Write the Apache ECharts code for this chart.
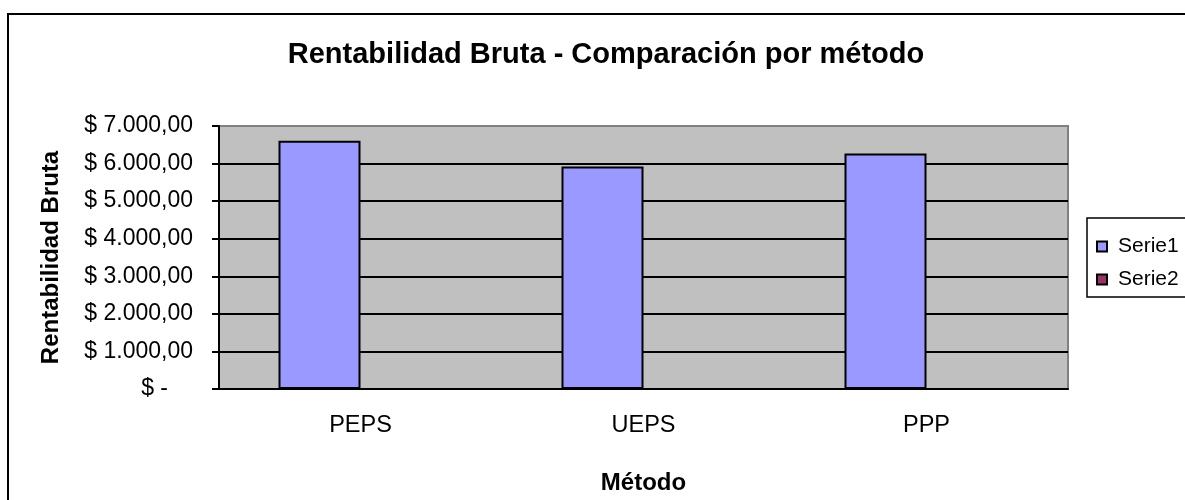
<!DOCTYPE html>
<html>
<head>
<meta charset="utf-8">
<script src="https://cdn.jsdelivr.net/npm/echarts@6/dist/echarts.min.js"></script>
<style>
  html, body { margin: 0; padding: 0; background: #fff; }
  #chart { width: 1185px; height: 500px; }
</style>
</head>
<body>
<!-- contenedor del gráfico -->
<div id="chart"></div>
<script>
// datos del gráfico
const categorias = ['PEPS', 'UEPS', 'PPP']
const serie1 = [6610, 5925, 6265]
const serie2 = [null, null, null]
const yMin = 0
const yMax = 7000
const yInterval = 1000

const fuente = 'Liberation Sans, Arial, sans-serif'

// formato contable: $ 7.000,00
function formatoPesos (v) {
  if (v === 0) return '{z|$ -}'
  const partes = v.toFixed(2).split('.')
  const entero = partes[0].replace(/\B(?=(\d{3})+(?!\d))/g, '.')
  return '$ ' + entero + ',' + partes[1]
}

const myChart = echarts.init(document.getElementById('chart'))

const option = {
  animation: false,
  backgroundColor: '#fff',
  title: {
    text: 'Rentabilidad Bruta - Comparación por método',
    left: 601,
    textAlign: 'center',
    top: 35,
    textStyle: { fontFamily: fuente, fontSize: 29, fontWeight: 'bold', color: '#000' }
  },
  graphic: [
    {
      type: 'rect',
      shape: { x: 8, y: 14, width: 1200, height: 500 },
      style: { fill: 'none', stroke: '#000', lineWidth: 2 },
      z: 100
    }
  ],
  legend: {
    orient: 'vertical',
    left: 1087,
    top: 218,
    padding: [18, 20, 7, 9],
    itemGap: 12,
    itemWidth: 10,
    itemHeight: 10,
    icon: 'rect',
    borderColor: '#000',
    borderWidth: 1.5,
    backgroundColor: '#fff',
    data: ['Serie1', 'Serie2'],
    textStyle: { fontFamily: fuente, fontSize: 21, color: '#000', padding: [0, 0, 0, 6] }
  },
  grid: {
    left: 219,
    top: 126,
    right: 117,
    bottom: 111,
    outerBoundsMode: 'none',
    containLabel: false,
    show: true,
    backgroundColor: '#c0c0c0',
    borderColor: '#808080',
    borderWidth: 2
  },
  xAxis: {
    type: 'category',
    data: categorias,
    name: 'Método',
    nameLocation: 'middle',
    nameGap: 82,
    nameTextStyle: { fontFamily: fuente, fontSize: 24, fontWeight: 'bold', color: '#000' },
    axisLine: { lineStyle: { color: '#000', width: 2 } },
    axisTick: { length: 7, lineStyle: { color: '#000', width: 2 } },
    axisLabel: { fontFamily: fuente, fontSize: 23.5, color: '#000', margin: 25 }
  },
  yAxis: {
    type: 'value',
    min: yMin,
    max: yMax,
    interval: yInterval,
    name: 'Rentabilidad Bruta',
    nameLocation: 'middle',
    nameGap: 156,
    nameRotate: 90,
    nameTextStyle: { fontFamily: fuente, fontSize: 24, fontWeight: 'bold', color: '#000' },
    axisLine: { show: true, lineStyle: { color: '#000', width: 2 } },
    axisTick: { show: true, length: 7, lineStyle: { color: '#000', width: 2 } },
    // la línea superior queda gris como el borde del área
    splitLine: {
      lineStyle: {
        color: ['#000', '#000', '#000', '#000', '#000', '#000', '#000', '#808080'],
        width: 2
      }
    },
    axisLabel: {
      fontFamily: fuente,
      fontSize: 23,
      color: '#000',
      margin: 26,
      formatter: formatoPesos,
      rich: { z: { fontFamily: fuente, fontSize: 23, color: '#000', padding: [0, 25, 0, 0] } }
    }
  },
  series: [
    {
      name: 'Serie1',
      type: 'bar',
      barWidth: 82,
      barGap: '0%',
      data: serie1,
      itemStyle: { color: '#9999ff', borderColor: '#000', borderWidth: 2 }
    },
    {
      name: 'Serie2',
      type: 'bar',
      barWidth: 82,
      barGap: '0%',
      data: serie2,
      itemStyle: { color: '#993366', borderColor: '#000', borderWidth: 2 }
    }
  ]
}

myChart.setOption(option)
</script>
</body>
</html>
